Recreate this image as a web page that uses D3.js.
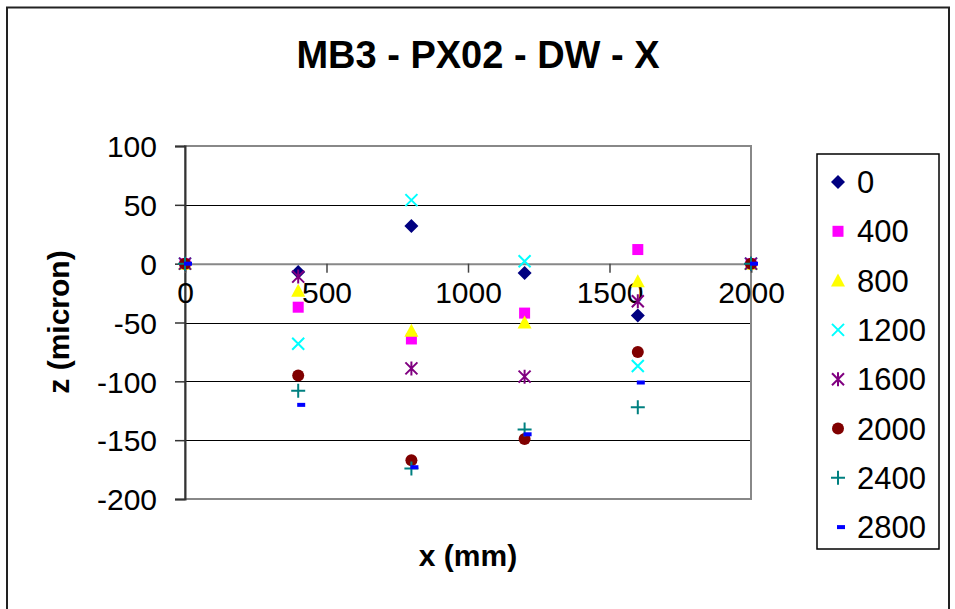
<!DOCTYPE html>
<html><head><meta charset="utf-8">
<script src="https://cdn.jsdelivr.net/npm/d3@7"></script>
<style>body{margin:0;background:#fff}svg{display:block;font-family:"Liberation Sans",Arial,sans-serif}</style>
</head><body>
<svg id="c" width="955" height="609"></svg>
<script>
const title = "MB3 - PX02 - DW - X";
const xLabel = "x (mm)";
const yLabel = "z (micron)";
const xValues = [0, 400, 800, 1200, 1600, 2000];
const seriesNames = ["0", "400", "800", "1200", "1600", "2000", "2400", "2800"];
const s0    = [0, -7, 32, -8, -44, 0];
const s400  = [0, -37, -64, -42, 12, 0];
const s800  = [0, -23, -57, -50, -15, 0];
const s1200 = [0, -68, 54, 2, -87, 0];
const s1600 = [0, -11, -89, -96, -32, 0];
const s2000 = [0, -95, -167, -149, -75, 0];
const s2400 = [0, -108, -174, -141, -122, 0];
const s2800 = [0, -120, -173, -145, -101, 0];
const xTicks = [0, 500, 1000, 1500, 2000];
const yTicks = [100, 50, 0, -50, -100, -150, -200];

const seriesValues = [s0, s400, s800, s1200, s1600, s2000, s2400, s2800];
const colors = ["#000080", "#FF00FF", "#FFFF00", "#00FFFF", "#800080", "#800000", "#008080", "#0000FF"];
const shapes = ["diamond", "square", "triangle", "times", "asterisk", "circle", "plus", "dash"];

const svg = d3.select("#c");
// outer frame
svg.append("rect").attr("x", 7).attr("y", 7.5).attr("width", 942).attr("height", 610)
  .attr("fill", "#fff").attr("stroke", "#222").attr("stroke-width", 2);

const L = 185, R = 751, T = 146, B = 499;
const x = d3.scaleLinear().domain([0, 2000]).range([L, R]);
const y = d3.scaleLinear().domain([-200, 100]).range([B, T]);

// gridlines
svg.append("g").selectAll("line").data(yTicks.filter(t => t !== 100 && t !== -200 && t !== 0)).join("line")
  .attr("x1", L).attr("x2", R).attr("y1", d => Math.round(y(d)) + 0.5).attr("y2", d => Math.round(y(d)) + 0.5)
  .attr("stroke", "#000").attr("stroke-width", 1);
// plot border
svg.append("rect").attr("x", L).attr("y", T).attr("width", R - L).attr("height", B - T)
  .attr("fill", "none").attr("stroke", "#888").attr("stroke-width", 2);

const fmt = d => String(d);
// y axis
const yAxis = d3.axisLeft(y).tickValues(yTicks).tickSize(10).tickPadding(18).tickFormat(fmt);
const gy = svg.append("g").attr("transform", `translate(${L},0)`).call(yAxis);
gy.select(".domain").attr("stroke", "#333").attr("stroke-width", 2);
gy.selectAll(".tick line").attr("stroke", "#333").attr("stroke-width", 1.5);
gy.selectAll("text").attr("font-size", 30).attr("fill", "#000").attr("font-family", "Liberation Sans, Arial, sans-serif").attr("dy", "0.36em");

// x axis at y=0
const xAxis = d3.axisBottom(x).tickValues(xTicks).tickSize(9).tickPadding(27).tickFormat(fmt);
const gx = svg.append("g").attr("transform", `translate(0,${y(0)})`).call(xAxis);
gx.select(".domain").attr("stroke", "#888").attr("stroke-width", 2);
gx.selectAll(".tick line").attr("stroke", "#444").attr("stroke-width", 1.5);
gx.selectAll("text").attr("font-size", 30).attr("fill", "#000").attr("font-family", "Liberation Sans, Arial, sans-serif").attr("dy", "0.1em");

// marker drawing
function drawMarker(g, shape, color, cx, cy) {
  if (shape === "circle") {
    g.append("circle").attr("cx", cx).attr("cy", cy).attr("r", 6).attr("fill", color);
  } else if (shape === "square") {
    g.append("rect").attr("x", cx - 5.5).attr("y", cy - 5.5).attr("width", 11).attr("height", 11).attr("fill", color);
  } else if (shape === "diamond") {
    g.append("path").attr("d", `M${cx},${cy - 7}L${cx + 7},${cy}L${cx},${cy + 7}L${cx - 7},${cy}Z`).attr("fill", color);
  } else if (shape === "triangle") {
    g.append("path").attr("d", `M${cx},${cy - 7}L${cx + 7},${cy + 6}L${cx - 7},${cy + 6}Z`).attr("fill", color);
  } else if (shape === "times") {
    g.append("path").attr("d", `M${cx - 6},${cy - 6}L${cx + 6},${cy + 6}M${cx + 6},${cy - 6}L${cx - 6},${cy + 6}`)
      .attr("stroke", color).attr("stroke-width", 2).attr("fill", "none");
  } else if (shape === "plus") {
    g.append("path").attr("d", `M${cx - 7},${cy}L${cx + 7},${cy}M${cx},${cy - 7}L${cx},${cy + 7}`)
      .attr("stroke", color).attr("stroke-width", 2).attr("fill", "none");
  } else if (shape === "asterisk") {
    g.append("path").attr("d", `M${cx - 6},${cy - 6}L${cx + 6},${cy + 6}M${cx + 6},${cy - 6}L${cx - 6},${cy + 6}M${cx},${cy - 7}L${cx},${cy + 7}`)
      .attr("stroke", color).attr("stroke-width", 2).attr("fill", "none");
  } else if (shape === "dash") {
    g.append("rect").attr("x", cx - 1).attr("y", cy - 2).attr("width", 8).attr("height", 4).attr("fill", color);
  }
}

const gm = svg.append("g");
seriesValues.forEach((vals, i) => {
  vals.forEach((v, j) => drawMarker(gm, shapes[i], colors[i], x(xValues[j]), y(v)));
});

// title
svg.append("text").attr("x", 478).attr("y", 68).attr("text-anchor", "middle")
  .attr("font-size", 38).attr("font-weight", "bold").text(title);
// axis titles
svg.append("text").attr("x", 468).attr("y", 566).attr("text-anchor", "middle")
  .attr("font-size", 30).attr("font-weight", "bold").text(xLabel);
svg.append("text").attr("transform", "translate(69,322) rotate(-90)").attr("text-anchor", "middle")
  .attr("font-size", 30).attr("font-weight", "bold").text(yLabel);

// legend
svg.append("rect").attr("x", 817).attr("y", 154).attr("width", 122).attr("height", 395)
  .attr("fill", "#fff").attr("stroke", "#000").attr("stroke-width", 1.5);
const lg = svg.append("g");
seriesNames.forEach((n, i) => {
  const cy = 182 + i * 49.3;
  drawMarker(lg, shapes[i], colors[i], 838, cy);
  lg.append("text").attr("x", 857).attr("y", cy + 11).attr("font-size", 31).text(n);
});
</script>
</body></html>
